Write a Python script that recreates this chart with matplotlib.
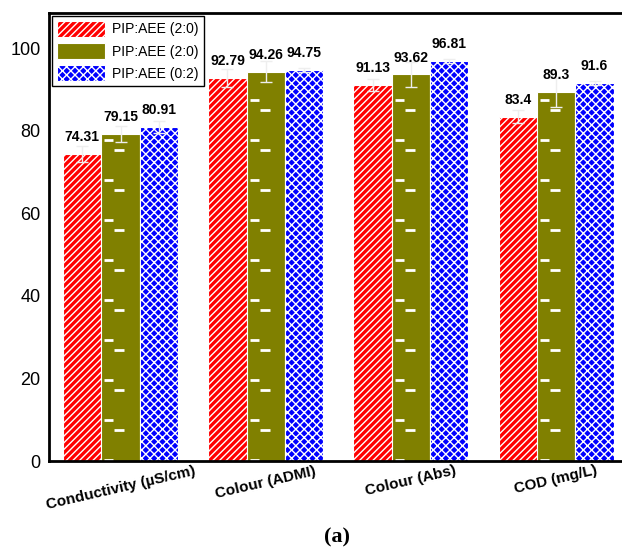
import numpy as np
import matplotlib
matplotlib.use("Agg")
import matplotlib.pyplot as plt

plt.rcParams["font.family"] = ["Liberation Sans", "DejaVu Sans"]
plt.rcParams["hatch.linewidth"] = 1.0

categories = ["Conductivity (\u00b5S/cm)", "Colour (ADMI)", "Colour (Abs)", "COD (mg/L)"]
series_names = ["PIP:AEE (2:0)", "PIP:AEE (2:0)", "PIP:AEE (0:2)"]
red_vals = [74.31, 92.79, 91.13, 83.4]
olive_vals = [79.15, 94.26, 93.62, 89.3]
blue_vals = [80.91, 94.75, 96.81, 91.6]
red_err = [2.0, 2.2, 1.5, 1.5]
olive_err = [2.0, 2.5, 3.0, 3.5]
blue_err = [1.5, 0.5, 0.5, 0.5]

colors = ["#ff0000", "#808000", "#0000ff"]
hatches = ["/////", "", "xxxx"]

fig, ax = plt.subplots(figsize=(6.22, 5.52), dpi=100)
# axes from x=49 to the right edge, y=13 to 461
fig.subplots_adjust(left=49 / 622, right=1.003, top=1 - 13 / 552, bottom=1 - 461 / 552)

x = np.arange(len(categories))
w = 0.264
allvals = [red_vals, olive_vals, blue_vals]
allerr = [red_err, olive_err, blue_err]
for i, (vals, errs) in enumerate(zip(allvals, allerr)):
    pos = x + (i - 1) * w
    ax.bar(pos, vals, w, color=colors[i], edgecolor="white", hatch=hatches[i],
           linewidth=0.8, label=series_names[i])
    ax.errorbar(pos, vals, yerr=errs, fmt="none", ecolor="#eeeeee", elinewidth=1,
                capsize=4, capthick=1)
    for p, v in zip(pos, vals):
        ax.text(p, v + 4.1, f"{v:g}", ha="center", va="center", fontsize=10, fontweight="bold")
    if i == 1:
        # brick-like white dashes on the olive bars
        for p, v in zip(pos, vals):
            left = p - w / 2
            for yy in np.arange(0.2, v - 1, 9.7):
                ax.plot([left + 0.02, left + 0.082], [yy, yy], color="white", lw=2,
                        solid_capstyle="butt")
                if yy - 2.4 > 0:
                    ax.plot([left + 0.09, left + 0.158], [yy - 2.4, yy - 2.4],
                            color="white", lw=2, solid_capstyle="butt")

ax.set_xlim(-0.493, 3.466)
ax.set_ylim(0, 108.5)
ax.set_yticks([0, 20, 40, 60, 80, 100])
ax.tick_params(axis="y", length=0, labelsize=13, pad=6)
ax.tick_params(axis="x", length=0, pad=2)
ax.set_xticks(x)
ax.set_xticklabels(categories, rotation=13, fontsize=11, fontweight="bold", ha="center")
for s in ax.spines.values():
    s.set_linewidth(2)
ax.spines["right"].set_visible(False)

ax.legend(loc="upper left", fontsize=10, handlelength=3.5, handleheight=1.45,
          fancybox=False, edgecolor="black", framealpha=1, borderaxespad=0.2,
          borderpad=0.35, labelspacing=0.4, handletextpad=0.5)

fig.text(337 / 622, 1 - 537 / 552, "(a)", ha="center", va="center", fontsize=16,
         fontweight="bold", family="Liberation Serif")

fig.savefig("out.png", dpi=100)
